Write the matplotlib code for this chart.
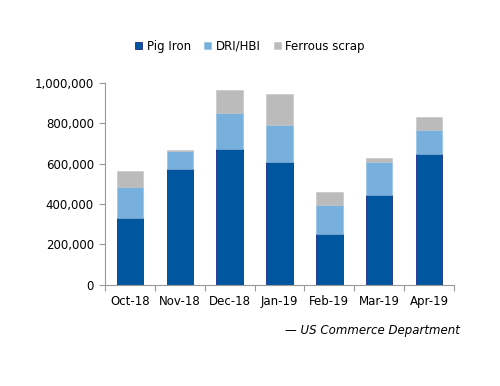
import numpy as np
import matplotlib.pyplot as plt
from matplotlib.ticker import FuncFormatter, FixedLocator

months = ['Oct-18', 'Nov-18', 'Dec-18', 'Jan-19', 'Feb-19', 'Mar-19', 'Apr-19']
pig_iron = [331000, 572000, 672000, 610000, 252000, 447000, 647000]
dri_hbi = [152000, 92000, 180000, 182000, 144000, 163000, 120000]
ferrous_scrap = [80000, 4000, 113000, 153000, 64000, 18000, 65000]

plt.rcParams['font.family'] = ['DejaVu Sans']

fig = plt.figure(figsize=(5, 3.86), dpi=100)
ax = fig.add_axes([0.21, 0.262, 0.698, 0.523])

x = np.arange(len(months))
w = 0.53
pig = np.array(pig_iron)
dri = np.array(dri_hbi)
scrap = np.array(ferrous_scrap)

# stacked bars
ax.bar(x, pig, w, color='#0057a0', edgecolor='#1c2d8c', linewidth=0.6, label='Pig Iron')
ax.bar(x, dri, w, bottom=pig, color='#77b0dd', edgecolor='#8dbde3', linewidth=0.4, label='DRI/HBI')
ax.bar(x, scrap, w, bottom=pig + dri, color='#bbbbbb', edgecolor='#c4c4c4', linewidth=0.4, label='Ferrous scrap')

ax.set_xlim(-0.5, len(months) - 0.5)
ax.set_ylim(0, 1000000)
ax.set_yticks(np.arange(0, 1000001, 200000))
ax.yaxis.set_major_formatter(FuncFormatter(lambda v, p: f'{int(v):,}'))

ax.set_xticks(x)
ax.set_xticklabels(months)
ax.xaxis.set_minor_locator(FixedLocator(np.arange(-0.5, len(months), 1.0)))
ax.tick_params(axis='x', which='major', length=0, pad=7, labelsize=8.5, colors='black')
ax.tick_params(axis='x', which='minor', length=4, color='#999999', width=0.8)
ax.tick_params(axis='y', length=4, color='#999999', width=0.8, labelsize=8.5, pad=4)

for s in ['top', 'right']:
    ax.spines[s].set_visible(False)
for s in ['left', 'bottom']:
    ax.spines[s].set_color('#999999')
    ax.spines[s].set_linewidth(0.8)

fig.legend(loc='upper center', bbox_to_anchor=(0.5, 0.925), ncol=3, frameon=False,
           fontsize=8.5, handlelength=0.6, handleheight=0.6, handletextpad=0.4,
           columnspacing=1.1)

fig.text(0.92, 0.145, '— US Commerce Department', ha='right', va='center',
         fontsize=8.5, style='italic')

fig.savefig('out.png', dpi=100)
